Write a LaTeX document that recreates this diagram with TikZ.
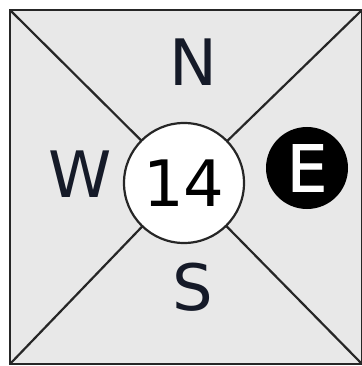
\documentclass[tikz,border=0pt]{standalone}
\usepackage{fontspec}
\setmainfont{DejaVu Sans}
\newfontfamily\efont[FakeBold=1.5]{DejaVu Sans}
\definecolor{bggray}{HTML}{E8E8E8}
\definecolor{inkc}{HTML}{151A28}
\begin{document}
\begin{tikzpicture}[x=1pt,y=-1pt,
  lbl/.style={text=inkc,font=\fontsize{64}{64}\selectfont,inner sep=0pt},
  line/.style={draw=black!85,line width=2.2pt}]
\useasboundingbox (0,0) rectangle (361,366);
\fill[white] (0,0) rectangle (361,366);
\draw[fill=bggray,draw=black!85,line width=2.2pt] (10,10) rectangle (362,364);
\coordinate (tl) at (10,10);
\coordinate (tr) at (362,10);
\coordinate (bl) at (10,364);
\coordinate (br) at (362,364);
\node[circle,minimum size=120pt,inner sep=0pt] (c) at (184,183) {};
\draw[line] (tl) -- (c);
\draw[line] (tr) -- (c);
\draw[line] (bl) -- (c);
\draw[line] (br) -- (c);
\node[circle,fill=white,draw=black!85,line width=2.2pt,minimum size=120pt,inner sep=0pt,font=\fontsize{64}{64}\selectfont,text=black] (num) at (184,183) {14};
\node[lbl] (n) at (193,62) {N};
\node[lbl] (w) at (80,174) {W};
\node[lbl] (s) at (193,287) {S};
\node[circle,fill=black,minimum size=82pt,inner sep=0pt,text=white,font=\efont\fontsize{64}{64}\selectfont] (e) at (307,168) {E};
\end{tikzpicture}
\end{document}
